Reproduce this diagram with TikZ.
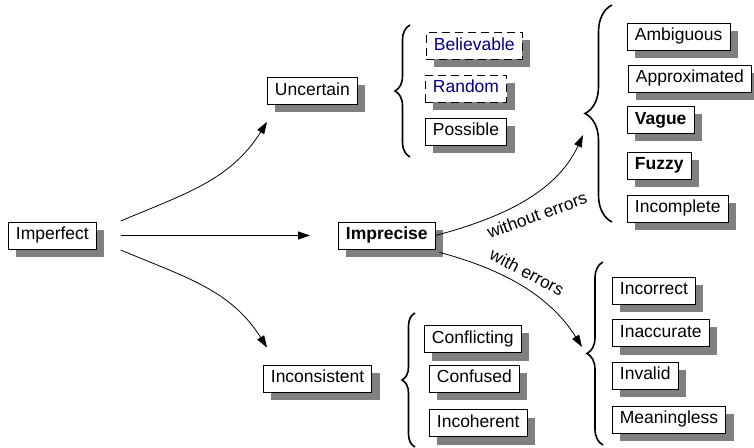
\documentclass[tikz,border=0pt]{standalone}
\usepackage{fontspec}
\setmainfont{Liberation Sans}
\usetikzlibrary{shadows,arrows.meta,decorations.pathreplacing}
\begin{document}
\begin{tikzpicture}[x=1pt,y=1pt,
  box/.style={draw=black, line width=0.8pt, fill=white,
    font=\fontsize{17.5}{21}\selectfont, inner xsep=7.5pt, inner ysep=0pt,
    minimum height=27pt, text height=12.6pt, text depth=3.7pt,
    drop shadow={shadow xshift=8pt,shadow yshift=-8pt,fill=black!50,opacity=1},
    anchor=west},
  dbox/.style={box, dash pattern=on 8pt off 5pt, text=navyblue},
  bbox/.style={box, font=\fontsize{17.5}{21}\selectfont\bfseries},
  conn/.style={line width=0.8pt, -{Triangle[length=12pt,width=8pt]}},
  brc/.style={decorate, decoration={brace,amplitude=#1}, line width=1.6pt},
  lbl/.style={font=\fontsize{17.3}{20}\selectfont, inner sep=0pt}
]
\definecolor{navyblue}{RGB}{0,0,128}
\useasboundingbox (0,0) rectangle (754,447);

% nodes
\node[box]  (imperfect)    at (8,211.5)   {Imperfect};
\node[box]  (uncertain)    at (267,356)   {Uncertain};
\node[bbox] (imprecise)    at (338,211.5) {Imprecise};
\node[box]  (inconsistent) at (263,68.5)  {Inconsistent};

\node[dbox] (believable)   at (426,401)   {Believable};
\node[dbox] (random)       at (425,358.5) {Random};
\node[box]  (possible)     at (425,315.5) {Possible};

\node[box]  (ambiguous)    at (627,410.5) {Ambiguous};
\node[box]  (approximated) at (628,368.5) {Approximated};
\node[bbox] (vague)        at (627,327)   {Vague};
\node[bbox] (fuzzy)        at (627,281.5) {Fuzzy};
\node[box]  (incomplete)   at (627,238.5) {Incomplete};

\node[box]  (incorrect)    at (612,156.5) {Incorrect};
\node[box]  (inaccurate)   at (612,114)   {Inaccurate};
\node[box]  (invalid)      at (612,71.5)  {Invalid};
\node[box]  (meaningless)  at (612,27.5)  {Meaningless};

\node[box]  (conflicting)  at (424,108)   {Conflicting};
\node[box]  (confused)     at (429,68.5)  {Confused};
\node[box]  (incoherent)   at (429,24)    {Incoherent};

% braces
\draw[brc=15] (410,290) -- (410,422);
\draw[brc=27] (612,225) -- (612,442);
\draw[brc=16] (603,2) -- (603,185);
\draw[brc=13] (415,0) -- (415,134);

% arrow ends at the braces
\coordinate (tw) at (583,312);
\coordinate (te) at (582,100);

% connectors
\draw[conn] ([xshift=24pt]imperfect.east) -- ([xshift=-28pt]imprecise.west);
\draw[conn] ([xshift=24pt,yshift=14.5pt]imperfect.east) to[out=23,in=-122] ([yshift=-17pt]uncertain.south west);
\draw[conn] ([xshift=24pt,yshift=-14.5pt]imperfect.east) to[out=-23,in=122] ([xshift=4pt,yshift=17pt]inconsistent.north west);

\draw[conn] (imprecise.east) .. controls +(58,15.5) and +(-28,-61) .. (tw);
\draw[conn] ([xshift=4pt,yshift=-3pt]imprecise.south east) .. controls +(53,-14.2) and +(-35.5,56.9) .. (te);

% connector labels
\node[lbl, rotate=20]  (lw)  at (537,232) {without errors};
\node[lbl, rotate=-27.5] (le) at (527,175) {with errors};
\end{tikzpicture}
\end{document}
